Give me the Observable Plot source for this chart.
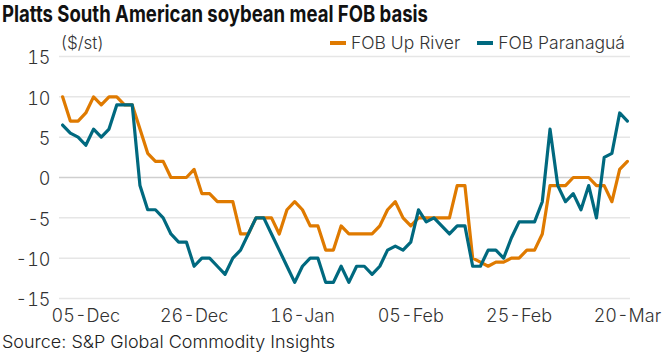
<!DOCTYPE html>
<html>
<head>
<meta charset="utf-8">
<script src="https://cdn.jsdelivr.net/npm/d3@7"></script>
<script src="https://cdn.jsdelivr.net/npm/@observablehq/plot@0.6"></script>
<style>
  html, body { margin: 0; padding: 0; background: #fff; }
  #wrap { position: relative; width: 672px; height: 353px; overflow: hidden; font-family: Inter, "Noto Sans", sans-serif; }
  #title { position: absolute; left: 2px; top: 0px; font-size: 23px; font-weight: 700; color: #111; white-space: nowrap; transform-origin: left top; line-height: 29px; }
  #unit { position: absolute; left: 61px; top: 33px; font-size: 17px; font-weight: 300; color: #333; line-height: 20px; }
  #legend { position: absolute; left: 330px; top: 33px; font-size: 17.5px; font-weight: 300; color: #333; line-height: 20px; display: flex; align-items: center; white-space: nowrap; }
  .sw { display: inline-block; width: 16px; height: 4px; margin-right: 5px; }
  .item { display: inline-flex; align-items: center; margin-right: 17px; }
  #chart { position: absolute; left: 0; top: 30px; }
  #caption { position: absolute; left: 2px; top: 332px; font-size: 17.5px; font-weight: 300; color: #222; line-height: 20px; white-space: nowrap; transform-origin: left top; }
  #chart text { font-weight: 300; }
</style>
</head>
<body>
<div id="wrap">
  <div id="title"></div>
  <div id="unit"></div>
  <div id="legend"></div>
  <div id="chart"></div>
  <div id="caption"></div>
</div>
<script>
const titleText = "Platts South American soybean meal FOB basis";
const unitText = "($/st)";
const captionText = "Source: S&P Global Commodity Insights";
const seriesNames = ["FOB Up River", "FOB Paranaguá"];
const seriesColors = ["#DF7A00", "#00697F"];

const upRiver = [10,7,7,8,10,9,10,10,9,9,6,3,2,2,0,0,0,1,-2,-2,-3,-3,-3,-7,-7,-5,-5,-5,-7,-4,-3,-4,-6,-6,-9,-9,-6,-7,-7,-7,-7,-6,-4,-3,-5,-6,-5,-5,-5,-5,-5,-1,-1,-10,-10.5,-11,-10.5,-10.5,-10,-10,-9,-9,-7,-1,-1,-1,0,0,0,-1,-1,-3,1,2];
const paranagua = [6.5,5.5,5,4,6,5,6,9,9,9,-1,-4,-4,-5,-7,-8,-8,-11,-10,-10,-11,-12,-10,-9,-7,-5,-5,-7,-9,-11,-13,-11,-10,-10,-13,-13,-11,-13,-11,-11,-12,-11,-9,-8.5,-9,-8,-4,-5.5,-5,-6,-7,-6,-6,-11,-11,-9,-9,-10,-7.5,-5.5,-5.5,-5.5,-3,6,-1,-3,-2,-4,-1,-5,2.5,3,8,7];

const tickIndex = [3, 17, 31, 45, 59, 73];
const tickLabels = ["05-Dec", "26-Dec", "16-Jan", "05-Feb", "25-Feb", "20-Mar"];
const yTicks = [-15, -10, -5, 0, 5, 10, 15];

document.getElementById("title").textContent = titleText;
document.getElementById("unit").textContent = unitText;
document.getElementById("caption").textContent = captionText;
const legend = document.getElementById("legend");
seriesNames.forEach((n, k) => {
  const it = document.createElement("span"); it.className = "item";
  const sw = document.createElement("span"); sw.className = "sw"; sw.style.background = seriesColors[k];
  const tx = document.createElement("span"); tx.textContent = n;
  it.appendChild(sw); it.appendChild(tx); legend.appendChild(it);
});
function fitWidth(el, target) {
  const w = el.getBoundingClientRect().width;
  el.style.transform = `scaleX(${target / w})`;
}
fitWidth(document.getElementById("title"), 426);
fitWidth(document.getElementById("caption"), 333);

const chart = Plot.plot({
  width: 672,
  height: 300,
  marginLeft: 59,
  marginRight: 42,
  marginTop: 26,
  marginBottom: 32,
  style: { fontFamily: "Inter, 'Noto Sans', sans-serif", fontSize: "18px", background: "transparent", overflow: "visible" },
  x: { type: "linear", domain: [-0.4, 73.4] },
  y: { domain: [-15, 15] },
  marks: [
    Plot.ruleY(yTicks.filter(d => d !== 0), { stroke: "#e6e6e6", strokeWidth: 1.5 }),
    Plot.ruleY([0], { stroke: "#cfcfcf", strokeWidth: 1.5 }),
    Plot.axisY(yTicks, { tickSize: 0, tickPadding: 9, fontSize: 18, fill: "#333", label: null, tickFormat: d => String(d), dy: 2 }),
    Plot.axisX(tickIndex, { tickSize: 0, tickPadding: 11, fontSize: 18, fill: "#333", label: null, tickFormat: d => tickLabels[tickIndex.indexOf(d)] }),
    Plot.lineY(upRiver, { stroke: seriesColors[0], strokeWidth: 3.2 }),
    Plot.lineY(paranagua, { stroke: seriesColors[1], strokeWidth: 3.2 })
  ]
});
document.getElementById("chart").appendChild(chart);
</script>
</body>
</html>
